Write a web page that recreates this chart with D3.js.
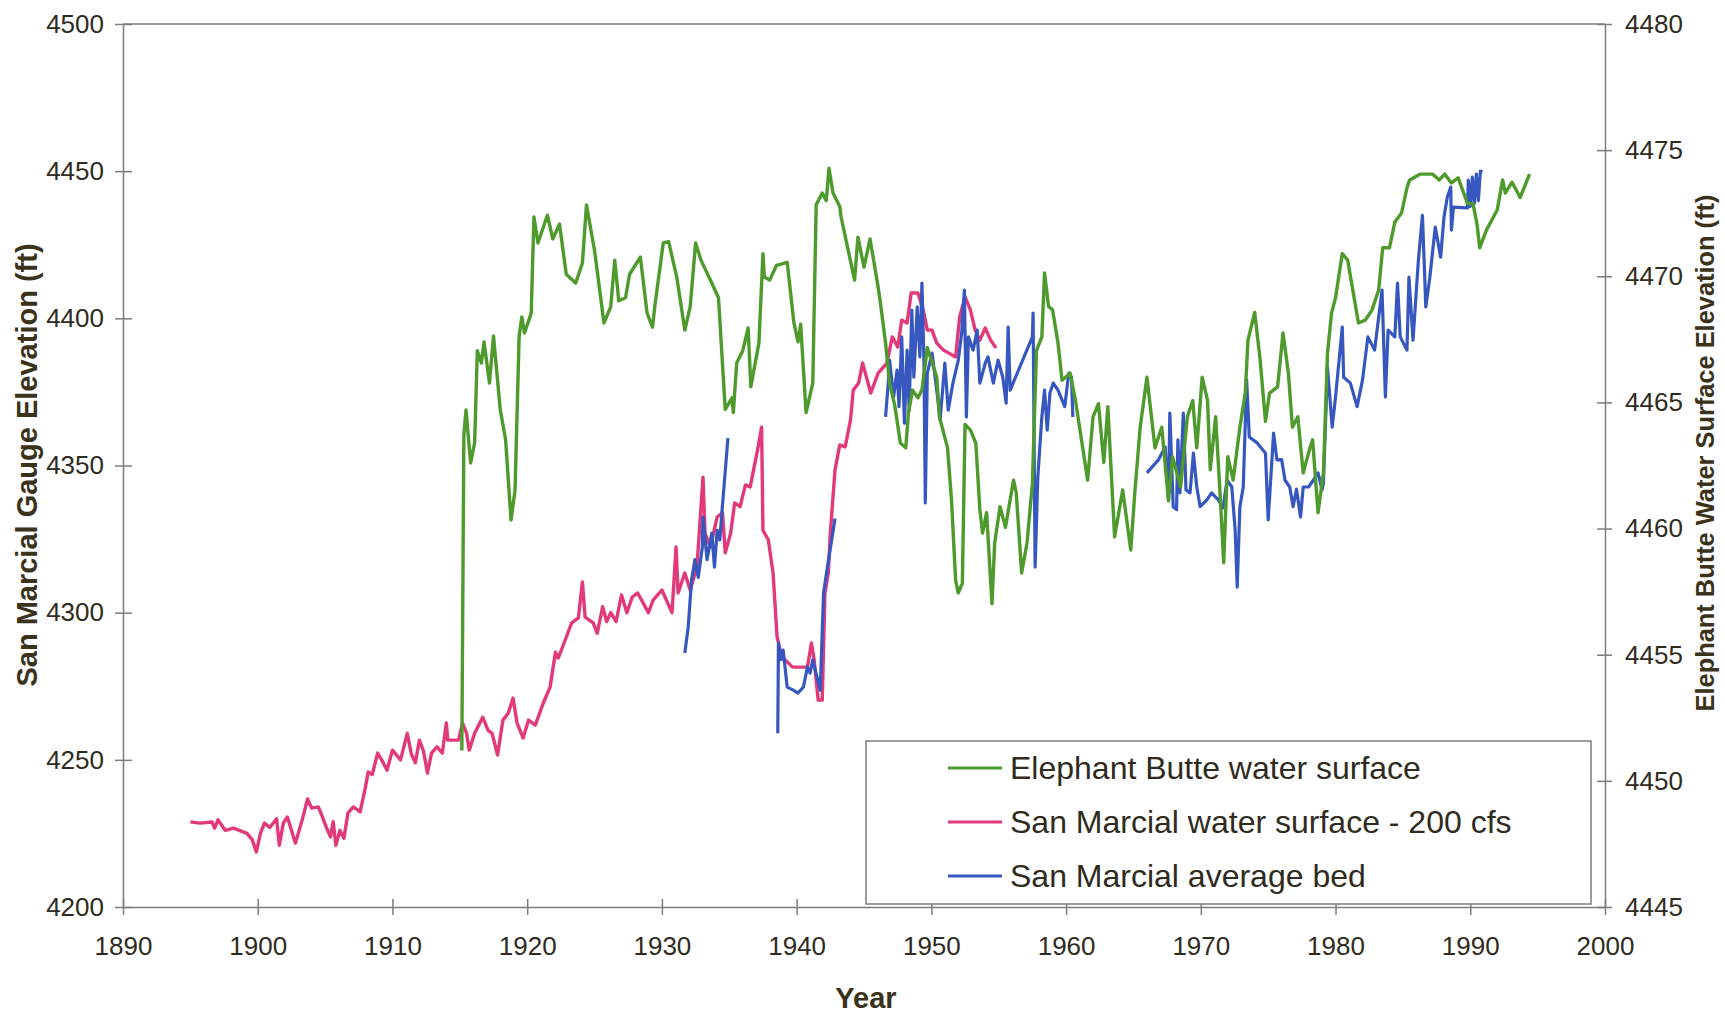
<!DOCTYPE html>
<html>
<head>
<meta charset="utf-8">
<script src="https://cdn.jsdelivr.net/npm/d3@7"></script>
<style>
  html, body { margin: 0; padding: 0; background: #fff; }
  svg { display: block; font-family: "Liberation Sans", Arial, sans-serif; }
  .tick text { fill: #2f2b20; }
</style>
</head>
<body>
<svg id="chart" width="1725" height="1013"></svg>
<script>
// ---- Data ----
const xTicks = [1890, 1900, 1910, 1920, 1930, 1940, 1950, 1960, 1970, 1980, 1990, 2000];
const leftTicks = [4200, 4250, 4300, 4350, 4400, 4450, 4500];
const rightTicks = [4445, 4450, 4455, 4460, 4465, 4470, 4475, 4480];

const seriesNames = ['Elephant Butte water surface', 'San Marcial water surface - 200 cfs', 'San Marcial average bed'];
const seriesColors = ['#4f9a2c', '#e2397b', '#3557bf'];

// Elephant Butte water surface (right axis, ft)
const greenPts = [
  [1915.15,4451.2],[1915.3,4463.7],[1915.46,4464.7],[1915.8,4462.6],[1916.1,4463.4],[1916.3,4467.05],
  [1916.6,4466.56],[1916.8,4467.4],[1917.2,4465.77],[1917.5,4467.63],[1918.0,4464.72],[1918.4,4463.52],
  [1918.8,4460.34],[1919.1,4461.53],[1919.4,4467.6],[1919.6,4468.39],[1919.8,4467.75],[1920.3,4468.54],
  [1920.5,4472.35],[1920.8,4471.32],[1921.5,4472.42],[1921.9,4471.48],[1922.4,4472.07],[1922.9,4470.08],
  [1923.6,4469.73],[1924.1,4470.53],[1924.4,4472.83],[1925.0,4471.02],[1925.7,4468.15],[1926.2,4468.79],
  [1926.5,4470.64],[1926.8,4469.03],[1927.3,4469.15],[1927.6,4470.08],[1928.4,4470.76],[1928.9,4468.54],
  [1929.3,4467.98],[1929.5,4468.92],[1930.1,4471.32],[1930.5,4471.37],[1931.1,4469.97],[1931.7,4467.87],
  [1932.1,4468.8],[1932.5,4471.32],[1932.9,4470.64],[1933.7,4469.73],[1934.2,4469.15],[1934.7,4464.72],
  [1935.2,4465.18],[1935.3,4464.6],[1935.55,4466.56],[1936.0,4467.05],[1936.4,4467.95],[1936.6,4465.62],
  [1937.2,4467.35],[1937.5,4470.9],[1937.6,4469.97],[1938.0,4469.85],[1938.5,4470.43],[1939.3,4470.55],
  [1939.8,4468.15],[1940.1,4467.4],[1940.3,4468.1],[1940.7,4464.6],[1941.2,4465.77],[1941.45,4472.83],
  [1941.9,4473.3],[1942.2,4473.0],[1942.4,4474.28],[1942.7,4473.3],[1943.2,4472.77],[1943.3,4472.35],
  [1944.3,4469.85],[1944.55,4471.55],[1945.0,4470.36],[1945.45,4471.48],[1946.0,4469.73],[1946.2,4469.03],
  [1946.6,4467.35],[1946.9,4465.77],[1947.3,4464.83],[1947.7,4463.39],[1948.1,4463.2],[1948.3,4464.58],
  [1948.6,4465.49],[1949.0,4465.18],[1949.3,4465.49],[1949.7,4467.17],[1950.4,4466.0],[1950.6,4464.43],
  [1951.2,4463.2],[1951.5,4461.1],[1951.8,4457.95],[1952.0,4457.45],[1952.3,4457.83],[1952.5,4464.13],
  [1952.9,4463.9],[1953.3,4463.39],[1953.6,4460.75],[1953.8,4459.82],[1954.1,4460.63],[1954.5,4457.02],
  [1954.7,4459.43],[1955.1,4460.87],[1955.5,4460.05],[1956.1,4461.92],[1956.3,4461.42],[1956.7,4458.24],
  [1957.1,4459.43],[1957.5,4461.8],[1957.8,4467.05],[1958.2,4467.6],[1958.4,4470.13],[1958.7,4468.8],
  [1959.0,4468.66],[1959.4,4467.35],[1959.7,4465.88],[1960.3,4466.16],[1960.7,4465.07],[1961.0,4464.02],
  [1961.6,4461.92],[1962.0,4464.43],[1962.4,4464.95],[1962.8,4462.62],[1963.1,4464.83],[1963.6,4459.67],
  [1964.2,4461.53],[1964.8,4459.15],[1965.1,4461.42],[1965.5,4464.02],[1966.0,4466.0],[1966.6,4463.2],
  [1967.1,4464.02],[1967.6,4461.1],[1967.9,4462.85],[1968.5,4461.65],[1969.0,4464.43],[1969.4,4465.07],
  [1969.7,4463.2],[1970.1,4466.0],[1970.5,4465.07],[1970.7,4462.33],[1971.1,4464.43],[1971.4,4461.65],
  [1971.7,4458.65],[1972.0,4462.85],[1972.4,4461.92],[1972.9,4464.02],[1973.3,4465.37],[1973.5,4467.47],
  [1974.0,4468.57],[1974.4,4466.7],[1974.8,4464.25],[1975.1,4465.37],[1975.7,4465.62],[1976.1,4467.75],
  [1976.5,4466.16],[1976.8,4464.02],[1977.2,4464.43],[1977.6,4462.21],[1978.1,4463.2],[1978.3,4463.52],
  [1978.7,4460.63],[1979.1,4462.21],[1979.4,4466.93],[1979.7,4468.54],[1980.0,4469.15],[1980.5,4470.9],
  [1980.9,4470.64],[1981.7,4468.15],[1982.2,4468.26],[1982.7,4468.66],[1983.2,4469.45],[1983.5,4471.13],
  [1984.0,4471.13],[1984.4,4472.15],[1984.9,4472.51],[1985.3,4473.5],[1985.5,4473.82],[1986.3,4474.05],
  [1987.2,4474.05],[1987.7,4473.82],[1988.1,4474.05],[1988.6,4473.7],[1989.1,4473.9],[1989.8,4472.88],
  [1990.2,4472.88],[1990.5,4472.07],[1990.7,4471.13],[1991.2,4471.83],[1991.6,4472.23],[1992.0,4472.63],
  [1992.4,4473.82],[1992.6,4473.3],[1993.1,4473.73],[1993.7,4473.12],[1994.4,4474.05]
];

// San Marcial water surface - 200 cfs (left axis, ft)
const pinkPts = [
  [1895.0,4228.9],[1895.7,4228.5],[1896.6,4228.9],[1896.8,4226.8],[1897.05,4229.6],[1897.6,4226],
  [1898.2,4226.8],[1899.2,4225],[1899.6,4222.8],[1899.9,4218.7],[1900.2,4225],[1900.5,4228.5],
  [1900.9,4227],[1901.4,4230],[1901.6,4221],[1901.9,4228.5],[1902.2,4230.6],[1902.8,4221.7],
  [1903.3,4229.6],[1903.7,4236.7],[1904.0,4233.6],[1904.5,4234],[1904.8,4230.6],[1905.1,4227],
  [1905.4,4223.8],[1905.6,4229],[1905.8,4221],[1906.1,4226],[1906.4,4223.4],[1906.7,4232],
  [1907.1,4234],[1907.6,4232.3],[1908.0,4240.8],[1908.2,4245.9],[1908.5,4245],[1908.9,4252.3],
  [1909.2,4250],[1909.6,4246.5],[1910.0,4253.3],[1910.6,4250],[1911.1,4259],[1911.4,4252],
  [1911.7,4249],[1912.0,4256.7],[1912.3,4253],[1912.6,4245.5],[1912.9,4252.3],[1913.3,4254.4],
  [1913.7,4252.3],[1914.0,4262.5],[1914.1,4256.7],[1914.9,4256.7],[1915.2,4262.5],[1915.5,4259],
  [1915.7,4253.3],[1916.1,4259],[1916.7,4264.5],[1917.1,4260],[1917.4,4259],[1917.8,4251.6],
  [1918.2,4263.5],[1918.6,4265.9],[1918.95,4271],[1919.25,4262.5],[1919.7,4257.4],[1920.1,4263.5],
  [1920.6,4261.8],[1921.2,4269.3],[1921.7,4274.7],[1922.1,4286.6],[1922.3,4284.6],[1922.6,4288],
  [1923.3,4296.5],[1923.8,4298.2],[1924.1,4310.4],[1924.3,4298.5],[1924.9,4296.5],[1925.2,4293],
  [1925.6,4302],[1925.9,4297],[1926.2,4300],[1926.6,4297],[1927.0,4306],[1927.4,4300],
  [1927.8,4305.3],[1928.2,4306.7],[1929.0,4300],[1929.35,4304.3],[1930.0,4307.7],[1930.75,4300],
  [1931.05,4322.3],[1931.2,4306.7],[1931.7,4313.5],[1932.1,4307.7],[1932.6,4315.5],[1933.05,4346],
  [1933.2,4327],[1933.6,4322.3],[1934.1,4332.5],[1934.5,4333.9],[1934.7,4320.3],[1935.1,4327],
  [1935.4,4337.3],[1935.8,4336],[1936.2,4343.4],[1936.55,4342.7],[1937.1,4355.3],[1937.4,4363],
  [1937.5,4328],[1937.9,4324.7],[1938.25,4313.5],[1938.55,4291.7],[1938.9,4285],[1939.7,4281.5],
  [1940.8,4281.5],[1941.1,4289.7],[1941.3,4284],[1941.6,4270.3],[1941.9,4270.3],[1942.1,4306.7],
  [1942.35,4313.5],[1942.5,4327],[1942.85,4348.5],[1943.2,4357],[1943.6,4356.3],[1944.0,4365.5],
  [1944.2,4375.6],[1944.6,4378],[1944.9,4384.8],[1945.5,4374.6],[1946.05,4381.4],[1946.7,4384.8],
  [1947.1,4393.7],[1947.5,4390.3],[1947.8,4399.4],[1948.2,4398.4],[1948.5,4408.6],[1949.0,4408.6],
  [1949.4,4402.8],[1949.7,4396],[1950.05,4396],[1950.4,4391.6],[1950.9,4389.2],[1951.8,4386.9],
  [1952.1,4400.5],[1952.5,4407.3],[1952.9,4402.8],[1953.25,4396],[1953.6,4392.6],[1954.0,4396.7],
  [1954.4,4392.6],[1954.8,4389.9]
];

// San Marcial average bed (left axis, ft); null marks a gap in the record
const bluePts = [
  [1931.7,4286.3],[1931.95,4295],[1932.2,4311],[1932.45,4318],[1932.7,4312],[1933.0,4322.3],
  [1933.05,4332.5],[1933.35,4318],[1933.7,4327],[1933.9,4315.5],[1934.1,4328],[1934.3,4324.7],
  [1934.45,4333.9],[1934.9,4359.3],
  null,
  [1938.6,4259],[1938.65,4289.7],[1938.85,4284],[1939.0,4287.3],[1939.3,4274.7],[1939.75,4273.7],
  [1940.1,4272.7],[1940.5,4274.7],[1940.8,4281.5],[1941.0,4279.5],[1941.2,4284],[1941.75,4273.7],
  [1942.0,4306.7],[1942.25,4314.5],[1942.85,4332],
  null,
  [1946.6,4366.5],[1946.8,4378],[1946.9,4385.8],[1947.2,4373.3],[1947.45,4382.4],[1947.6,4370],
  [1947.8,4393.7],[1948.0,4364.4],[1948.2,4389.2],[1948.35,4368.8],[1948.55,4402.8],[1948.7,4380],
  [1948.95,4403.9],[1949.15,4386.9],[1949.3,4412],[1949.45,4385.8],[1949.55,4337.3],[1949.7,4381.4],
  [1950.05,4388.2],[1950.4,4375.6],[1950.65,4365.5],[1951.0,4384.8],[1951.25,4368.8],[1951.6,4378],
  [1952.0,4385.8],[1952.25,4395],[1952.45,4409.6],[1952.6,4366.5],[1952.75,4393.7],[1953.1,4389.2],
  [1953.4,4396],[1953.6,4378],[1954.0,4384.8],[1954.2,4386.9],[1954.6,4378],[1954.95,4385.8],
  [1955.3,4380],[1955.55,4371.2],[1955.7,4397],[1955.85,4375.6],[1957.5,4393.7],[1957.55,4401.8],
  [1957.7,4315.5],[1957.9,4346],[1958.2,4366.5],[1958.4,4375.6],[1958.6,4362],[1958.8,4374.6],
  [1959.05,4378],[1959.4,4375.6],[1959.9,4370],[1960.2,4381.4],[1960.4,4380],[1960.5,4366.5],
  null,
  [1966.0,4347.5],[1966.85,4351.9],[1967.35,4356.3],[1967.6,4338.3],[1967.7,4367.8],[1967.95,4336],
  [1968.2,4335],[1968.3,4358.7],[1968.45,4340.7],[1968.7,4367.8],[1968.9,4341.7],[1969.2,4340.7],
  [1969.45,4354.2],[1969.7,4342.7],[1969.95,4336],[1970.45,4338.3],[1970.8,4340.7],[1971.3,4338.3],
  [1971.65,4335.6],[1971.95,4345],[1972.3,4342.7],[1972.55,4328],[1972.7,4308.7],[1972.9,4336],
  [1973.15,4342.7],[1973.4,4379],[1973.6,4359.7],[1974.2,4357.6],[1974.8,4354.2],[1975.0,4331.5],
  [1975.4,4361],[1975.65,4351.9],[1976.0,4352],[1976.25,4345],[1976.6,4342.7],[1976.85,4336],
  [1977.1,4342],[1977.4,4332.5],[1977.6,4342.7],[1978.0,4342.7],[1978.35,4345],[1978.7,4347.5],
  [1979.0,4341.7],[1979.1,4344],[1979.4,4383.5],[1979.75,4363],[1980.0,4373.3],[1980.5,4397],
  [1980.6,4380],[1981.1,4378],[1981.6,4370],[1982.0,4379],[1982.4,4393.7],[1982.9,4389.2],
  [1983.45,4409.6],[1983.7,4373.3],[1983.9,4396],[1984.4,4393.7],[1984.6,4412],[1984.8,4393.7],
  [1985.3,4389.2],[1985.45,4414],[1985.75,4392.6],[1986.15,4419.8],[1986.45,4435],[1986.7,4403.9],
  [1987.0,4414],[1987.4,4431],[1987.8,4420.8],[1988.05,4434.4],[1988.3,4441.2],[1988.55,4444.6],
  [1988.6,4430],[1988.75,4437.8],[1989.8,4437.5],[1989.85,4447],[1990.0,4438],[1990.15,4448],
  [1990.3,4439],[1990.45,4449],[1990.6,4440],[1990.75,4450],[1990.9,4449.7]
];

// =============== LAYOUT ===============
const svg = d3.select('#chart');
const L = 123, R = 1605, T = 24, B = 907;
const axisColor = '#7d7d7d';
const titleColor = '#3a321b';

const x = d3.scaleLinear().domain([1890, 2000]).range([L, R]);
const yL = d3.scaleLinear().domain([4200, 4500]).range([B, T]);
const yR = d3.scaleLinear().domain([4445, 4480]).range([B, T]);

// top border
svg.append('line').attr('x1', L).attr('x2', R).attr('y1', T).attr('y2', T)
   .attr('stroke', axisColor).attr('stroke-width', 1.5);

// =============== AXES ===============
const fmt = d3.format('d');

const xAxis = svg.append('g').attr('transform', `translate(0,${B})`)
  .call(d3.axisBottom(x).tickValues(xTicks).tickFormat(fmt).tickSizeOuter(0));
xAxis.selectAll('.tick line').attr('y1', -8).attr('y2', 8);
xAxis.selectAll('.tick text').attr('y', 30).attr('dy', '0.71em').attr('font-size', 26);

const yAxisL = svg.append('g').attr('transform', `translate(${L},0)`)
  .call(d3.axisLeft(yL).tickValues(leftTicks).tickFormat(fmt).tickSizeOuter(0));
yAxisL.selectAll('.tick line').attr('x1', -8).attr('x2', 9);
yAxisL.selectAll('.tick text').attr('x', -19).attr('font-size', 26);

const yAxisR = svg.append('g').attr('transform', `translate(${R},0)`)
  .call(d3.axisRight(yR).tickValues(rightTicks).tickFormat(fmt).tickSizeOuter(0));
yAxisR.selectAll('.tick line').attr('x1', -8).attr('x2', 7);
yAxisR.selectAll('.tick text').attr('x', 20).attr('font-size', 26);

svg.selectAll('.domain, .tick line').attr('stroke', axisColor).attr('stroke-width', 1.5);
svg.selectAll('.tick text').attr('font-family', '"Liberation Sans", Arial, sans-serif');

// axis titles
svg.append('text').attr('x', 866).attr('y', 1008).attr('text-anchor', 'middle')
   .attr('font-size', 29).attr('font-weight', 'bold').attr('fill', titleColor).text('Year');

svg.append('text').attr('transform', 'translate(27,465) rotate(-90)')
   .attr('text-anchor', 'middle').attr('dy', '0.35em')
   .attr('font-size', 29).attr('font-weight', 'bold').attr('fill', titleColor)
   .text('San Marcial Gauge Elevation (ft)');

svg.append('text').attr('transform', 'translate(1705,453) rotate(-90)')
   .attr('text-anchor', 'middle').attr('dy', '0.35em')
   .attr('font-size', 25.4).attr('font-weight', 'bold').attr('fill', titleColor)
   .text('Elephant Butte Water Surface Elevation (ft)');

// =============== LINES ===============
const lineL = d3.line().defined(d => d !== null).x(d => x(d[0])).y(d => yL(d[1]));
const lineR = d3.line().x(d => x(d[0])).y(d => yR(d[1]));

const gLines = svg.append('g');
gLines.append('path').attr('d', lineL(pinkPts)).attr('fill', 'none')
  .attr('stroke', seriesColors[1]).attr('stroke-width', 3.4).attr('stroke-linejoin', 'round');
gLines.append('path').attr('d', lineL(bluePts)).attr('fill', 'none')
  .attr('stroke', seriesColors[2]).attr('stroke-width', 3.2).attr('stroke-linejoin', 'round');
gLines.append('path').attr('d', lineR(greenPts)).attr('fill', 'none')
  .attr('stroke', seriesColors[0]).attr('stroke-width', 3.4).attr('stroke-linejoin', 'round');

// =============== LEGEND ===============
const leg = svg.append('g');
leg.append('rect').attr('x', 866).attr('y', 741).attr('width', 725).attr('height', 163)
   .attr('fill', '#fff').attr('stroke', axisColor).attr('stroke-width', 1.5);
const rowY = d3.scalePoint().domain(seriesNames).range([768, 876]);
seriesNames.forEach((name, i) => {
  leg.append('line').attr('x1', 948).attr('x2', 1002).attr('y1', rowY(name)).attr('y2', rowY(name))
     .attr('stroke', seriesColors[i]).attr('stroke-width', 3);
  leg.append('text').attr('x', 1010).attr('y', rowY(name)).attr('dy', '0.35em')
     .attr('font-size', 32).attr('fill', '#2f2b20').text(name);
});
</script>
</body>
</html>
